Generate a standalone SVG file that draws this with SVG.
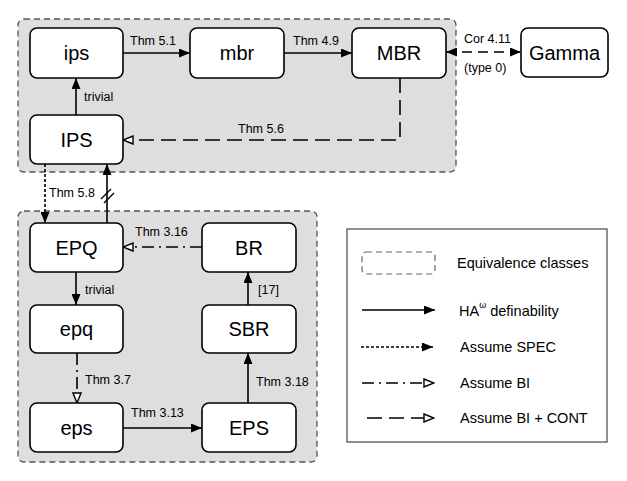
<svg xmlns="http://www.w3.org/2000/svg" width="627" height="481" viewBox="0 0 627 481">
<style>
.grp{fill:#dedede;stroke:#555;stroke-width:1.3;stroke-dasharray:6 4}
.node rect{fill:#fff;stroke:#000;stroke-width:1.6}
.node text{font-family:"Liberation Sans",Arial,sans-serif;font-size:20px;text-anchor:middle;dominant-baseline:central;fill:#000}
.lbl{font-family:"Liberation Sans",Arial,sans-serif;font-size:12.5px;fill:#000}
.leg{font-family:"Liberation Sans",Arial,sans-serif;font-size:14.5px;fill:#000;dominant-baseline:central}
.e{fill:none;stroke:#000;stroke-width:1.6}
.solid{marker-end:url(#fa)}
.spec{stroke-dasharray:3 2;marker-end:url(#fa)}
.bi{stroke-dasharray:12 5 2 5;marker-end:url(#ha)}
.cont{stroke-dasharray:15 7;marker-end:url(#ha)}
</style>
<defs>
<marker id="fa" viewBox="0 0 11 9" refX="11" refY="4.5" markerWidth="11" markerHeight="9" markerUnits="userSpaceOnUse" orient="auto">
<path d="M0,0 L11,4.5 L0,9 Z" fill="#000"/>
</marker>
<marker id="fas" viewBox="0 0 11 9" refX="0" refY="4.5" markerWidth="11" markerHeight="9" markerUnits="userSpaceOnUse" orient="auto">
<path d="M11,0 L0,4.5 L11,9 Z" fill="#000"/>
</marker>
<marker id="ha" viewBox="0 0 12 10" refX="11" refY="5" markerWidth="12" markerHeight="10" markerUnits="userSpaceOnUse" orient="auto">
<path d="M1,1 L11,5 L1,9 Z" fill="#fff" stroke="#000" stroke-width="1.4"/>
</marker>
</defs>

<g id="groups">
<rect class="grp" x="18" y="19" width="438" height="153" rx="6"/>
<rect class="grp" x="18" y="211" width="299" height="251" rx="6"/>
</g>

<g id="connectors">
<path class="e solid" d="M123,53 H190"/>
<text class="lbl" x="130" y="45">Thm 5.1</text>
<path class="e solid" d="M284,53 H352"/>
<text class="lbl" x="293" y="45">Thm 4.9</text>
<path class="e" d="M446,52 H521" style="stroke-dasharray:10 6;marker-end:url(#fa);marker-start:url(#fas)"/>
<text class="lbl" x="464" y="43">Cor 4.11</text>
<text class="lbl" x="464" y="72">(type 0)</text>
<path class="e cont" d="M400,78 V140 H123"/>
<text class="lbl" x="238" y="133">Thm 5.6</text>
<path class="e solid" d="M76,115 V78"/>
<text class="lbl" x="84" y="101">trivial</text>
<path class="e spec" d="M45,164 V223"/>
<text class="lbl" x="49" y="197">Thm 5.8</text>
<path class="e solid" d="M107,223 V164"/>
<path class="e" d="M101,199 L111,189 M104,203 L114,193" style="stroke-width:1.4"/>
<path class="e bi" d="M202,247 H123"/>
<text class="lbl" x="135" y="236">Thm 3.16</text>
<path class="e solid" d="M76,272 V305"/>
<text class="lbl" x="85" y="294">trivial</text>
<path class="e solid" d="M248,305 V272"/>
<text class="lbl" x="258" y="294">[17]</text>
<path class="e bi" d="M77,353 V403"/>
<text class="lbl" x="85" y="384">Thm 3.7</text>
<path class="e solid" d="M123,428 H202"/>
<text class="lbl" x="131" y="417">Thm 3.13</text>
<path class="e solid" d="M248,403 V353"/>
<text class="lbl" x="256" y="386">Thm 3.18</text>
</g>

<g id="ips" class="node"><rect x="30" y="28" width="93" height="50" rx="7"/><text x="76.5" y="53">ips</text></g>
<g id="mbr" class="node"><rect x="190" y="28" width="94" height="50" rx="7"/><text x="237" y="53">mbr</text></g>
<g id="MBR" class="node"><rect x="352" y="28" width="94" height="50" rx="7"/><text x="399" y="53">MBR</text></g>
<g id="Gamma" class="node"><rect x="521" y="28" width="87" height="49" rx="7"/><text x="564.5" y="52.5">Gamma</text></g>
<g id="IPS" class="node"><rect x="30" y="115" width="93" height="49" rx="7"/><text x="76.5" y="139.5">IPS</text></g>
<g id="EPQ" class="node"><rect x="30" y="223" width="93" height="49" rx="7"/><text x="76.5" y="247.5">EPQ</text></g>
<g id="BR" class="node"><rect x="202" y="223" width="94" height="49" rx="7"/><text x="249" y="247.5">BR</text></g>
<g id="epq" class="node"><rect x="30" y="305" width="93" height="48" rx="7"/><text x="76.5" y="329">epq</text></g>
<g id="SBR" class="node"><rect x="202" y="305" width="94" height="48" rx="7"/><text x="249" y="329">SBR</text></g>
<g id="eps" class="node"><rect x="30" y="403" width="93" height="49" rx="7"/><text x="76.5" y="427.5">eps</text></g>
<g id="EPS" class="node"><rect x="202" y="403" width="94" height="49" rx="7"/><text x="249" y="427.5">EPS</text></g>

<g id="legend">
<rect x="347" y="229" width="260" height="213" fill="#fff" stroke="#555" stroke-width="1.3"/>
<rect x="362" y="252" width="73" height="22" rx="4" fill="none" stroke="#666" stroke-width="1.2" stroke-dasharray="6 4"/>
<text class="leg" x="457" y="263">Equivalence classes</text>
<path class="e solid" d="M362,310 H435"/>
<text class="leg" x="459" y="311">HA<tspan dy="-6" font-size="9px">ω</tspan><tspan dy="6"> definability</tspan></text>
<path class="e spec" d="M361,347 H433"/>
<text class="leg" x="460" y="347">Assume SPEC</text>
<path class="e bi" d="M362,383 H434"/>
<text class="leg" x="460" y="383">Assume BI</text>
<path class="e cont" d="M367,418 H434"/>
<text class="leg" x="460" y="418">Assume BI + CONT</text>
</g>
</svg>
